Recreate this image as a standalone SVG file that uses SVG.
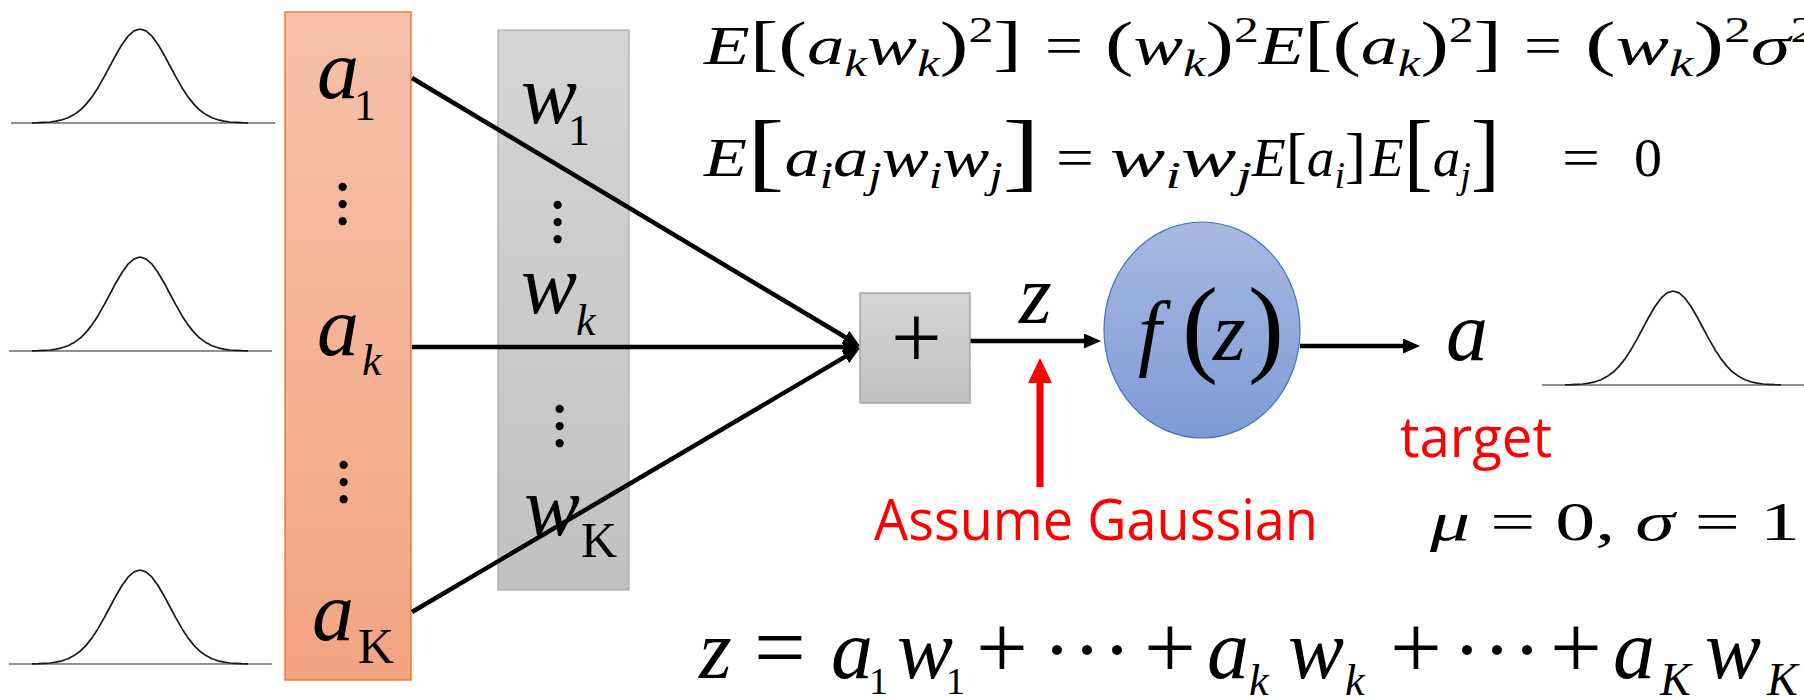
<svg xmlns="http://www.w3.org/2000/svg" xmlns:xlink="http://www.w3.org/1999/xlink" width="1804" height="700" viewBox="0 0 1804 700">
<style>
.ser{font-family:"Liberation Serif","Times New Roman",serif;fill:#000}
.it{font-style:italic}
.up{font-style:normal}
.big{font-size:84px}
.sub{font-size:44px}
.op{font-size:92px;font-style:normal}
.cm{font-family:"Liberation Serif","Times New Roman",serif;font-size:54px;fill:#000}
.br{font-size:62px;font-style:normal}
.bb{font-size:86px;font-style:normal}
.s{font-size:37px;font-style:italic}
.p{font-size:36px;font-style:normal}
.red{font-family:"Open Sans","Liberation Sans",sans-serif;font-size:56px;fill:#FF0000}
.vd{font-family:"Liberation Serif","Times New Roman",serif;font-weight:bold;font-size:51px;text-anchor:middle;fill:#000}
.base{stroke:#8f8f8f;stroke-width:2.2;fill:none}
.curve{stroke:#1a1a1a;stroke-width:1.7;fill:none;stroke-linejoin:round}
.conn{stroke:#000;stroke-width:4.5;fill:none;marker-end:url(#ah)}
</style>
<defs>
<linearGradient id="gOr" x1="0" y1="0" x2="0" y2="1"><stop offset="0" stop-color="#F7C1A9"/><stop offset="1" stop-color="#F4A482"/></linearGradient>
<linearGradient id="gGr" x1="0" y1="0" x2="0" y2="1"><stop offset="0" stop-color="#D5D5D5"/><stop offset="1" stop-color="#C1C1C1"/></linearGradient>
<linearGradient id="gBl" x1="0" y1="0" x2="0" y2="1"><stop offset="0" stop-color="#A9B9E1"/><stop offset="1" stop-color="#7E9AD5"/></linearGradient>
<marker id="ah" markerUnits="userSpaceOnUse" markerWidth="17" markerHeight="15" viewBox="0 0 17 15" refX="0.5" refY="7.5" orient="auto"><path d="M0,0 L17,7.5 L0,15 Z" fill="#000"/></marker>
<marker id="ahr" markerUnits="userSpaceOnUse" markerWidth="25" markerHeight="24" viewBox="0 0 25 24" refX="0.5" refY="12" orient="auto"><path d="M0,0 L25,12 L0,24 Z" fill="#FF0000"/></marker>
<path id="gc" d="M-108,-0.15 L-102,-0.3 L-96,-0.6 L-90,-1 L-84,-1.9 L-78,-3.2 L-72,-5.3 L-66,-8.4 L-60,-12.7 L-54,-18.6 L-48,-26.1 L-42,-35.3 L-36,-45.8 L-30,-57 L-24,-68.3 L-18,-78.5 L-12,-86.8 L-6,-92.1 L0,-94 L6,-92.1 L12,-86.8 L18,-78.5 L24,-68.3 L30,-57 L36,-45.8 L42,-35.3 L48,-26.1 L54,-18.6 L60,-12.7 L66,-8.4 L72,-5.3 L78,-3.2 L84,-1.9 L90,-1 L96,-0.6 L102,-0.3 L108,-0.15"/>
</defs>
<rect width="1804" height="700" fill="#fff"/>

<g id="gauss1" transform="translate(140,123)"><line class="base" x1="-129" y1="0" x2="135" y2="0"/><use xlink:href="#gc" class="curve"/></g>
<g id="gauss2" transform="translate(140,351)"><line class="base" x1="-131" y1="0" x2="132" y2="0"/><use xlink:href="#gc" class="curve"/></g>
<g id="gauss3" transform="translate(140,664)"><line class="base" x1="-131" y1="0" x2="132" y2="0"/><use xlink:href="#gc" class="curve"/></g>
<g id="gauss-out" transform="translate(1673,385)"><line class="base" x1="-131" y1="0" x2="135" y2="0"/><use xlink:href="#gc" class="curve"/></g>

<g id="inputs">
<rect x="285" y="12" width="126" height="668" fill="url(#gOr)" stroke="#ED7D31" stroke-width="1.5"/>
<text class="ser"><tspan class="it big" x="317" y="98">a</tspan><tspan class="up sub" x="354" y="120">1</tspan></text>
<text class="vd" transform="translate(343,204) rotate(90)" x="0" y="3.6">…</text>
<text class="ser"><tspan class="it big" x="317" y="355">a</tspan><tspan class="it sub" x="362" y="375">k</tspan></text>
<text class="vd" transform="translate(344,482) rotate(90)" x="0" y="3.6">…</text>
<text class="ser"><tspan class="it big" x="312" y="640">a</tspan><tspan class="up" font-size="50" x="358" y="663">K</tspan></text>
</g>

<g id="weights">
<rect x="498" y="30" width="131" height="560" fill="url(#gGr)" stroke="#A9A9A9" stroke-width="1.2"/>
<text class="ser"><tspan class="it big" x="521" y="123">w</tspan><tspan class="up sub" x="568" y="145">1</tspan></text>
<text class="vd" transform="translate(558,222) rotate(90)" x="0" y="3.6">…</text>
<text class="ser"><tspan class="it big" x="521" y="313">w</tspan><tspan class="it sub" x="576" y="335">k</tspan></text>
<text class="vd" transform="translate(560,426) rotate(90)" x="0" y="3.6">…</text>
<text class="ser"><tspan class="it big" x="524" y="535">w</tspan><tspan class="up" font-size="50" x="581" y="557">K</tspan></text>
</g>

<g id="connectors">
<line class="conn" x1="412" y1="78" x2="845.84" y2="337.53"/>
<line class="conn" x1="412" y1="347" x2="843.5" y2="347"/>
<line class="conn" x1="412" y1="612" x2="845.79" y2="356.38"/>
<line class="conn" stroke-width="4" x1="970" y1="341" x2="1084.5" y2="341"/>
<line class="conn" stroke-width="4" x1="1300" y1="346" x2="1403.5" y2="346"/>
<line x1="1040" y1="487" x2="1040" y2="382.5" stroke="#FF0000" stroke-width="7" marker-end="url(#ahr)"/>
</g>

<g id="sum">
<rect x="860" y="293" width="110" height="110" fill="url(#gGr)" stroke="#A6A6A6" stroke-width="1.5"/>
<text class="ser" x="891" y="368" font-size="90">+</text>
</g>
<text id="z-label" class="ser it" x="1019" y="323" font-size="84">z</text>

<g id="activation">
<ellipse cx="1202" cy="330" rx="98" ry="108" fill="url(#gBl)" stroke="#4472C4" stroke-width="1.2"/>
<text class="ser"><tspan class="it" font-size="84" x="1138" y="360">f</tspan><tspan class="up" font-size="108" x="1182" y="362">(</tspan><tspan class="it" font-size="84" x="1213" y="360">z</tspan><tspan class="up" font-size="108" x="1248" y="362">)</tspan></text>
</g>
<text id="output" class="ser it" x="1446" y="360" font-size="84">a</text>

<text id="assume" class="red" x="874" y="540" textLength="444" lengthAdjust="spacingAndGlyphs">Assume Gaussian</text>
<text id="target" class="red" x="1400" y="457" textLength="152" lengthAdjust="spacingAndGlyphs">target</text>
<text id="musigma" class="cm" x="1430" y="540" textLength="370" lengthAdjust="spacingAndGlyphs"><tspan class="it">μ</tspan> = 0, <tspan class="it">σ</tspan> = 1</text>

<g id="eq1">
<text class="cm" x="704" y="64" textLength="318" lengthAdjust="spacingAndGlyphs"><tspan class="it">E</tspan><tspan class="br">[(</tspan><tspan class="it">a</tspan><tspan class="s" dy="12">k</tspan><tspan class="it" dy="-12">w</tspan><tspan class="s" dy="12">k</tspan><tspan class="br" dy="-12">)</tspan><tspan class="p" dy="-22">2</tspan><tspan class="br" dy="22">]</tspan></text>
<text class="cm" x="1045" y="64" textLength="38" lengthAdjust="spacingAndGlyphs">=</text>
<text class="cm" x="1105" y="64" textLength="397" lengthAdjust="spacingAndGlyphs"><tspan class="br">(</tspan><tspan class="it">w</tspan><tspan class="s" dy="12">k</tspan><tspan class="br" dy="-12">)</tspan><tspan class="p" dy="-22">2</tspan><tspan class="it" dy="22">E</tspan><tspan class="br">[(</tspan><tspan class="it">a</tspan><tspan class="s" dy="12">k</tspan><tspan class="br" dy="-12">)</tspan><tspan class="p" dy="-22">2</tspan><tspan class="br" dy="22">]</tspan></text>
<text class="cm" x="1524" y="64" textLength="38" lengthAdjust="spacingAndGlyphs">=</text>
<text class="cm" x="1585" y="64" textLength="232" lengthAdjust="spacingAndGlyphs"><tspan class="br">(</tspan><tspan class="it">w</tspan><tspan class="s" dy="12">k</tspan><tspan class="br" dy="-12">)</tspan><tspan class="p" dy="-22">2</tspan><tspan class="it" dy="22">σ</tspan><tspan class="p" dy="-22">2</tspan></text>
</g>

<g id="eq2">
<text class="cm" x="704" y="176" textLength="336" lengthAdjust="spacingAndGlyphs"><tspan class="it">E</tspan><tspan class="bb" dy="4">[</tspan><tspan class="it" dy="-4">a</tspan><tspan class="s" dy="12">i</tspan><tspan class="it" dy="-12">a</tspan><tspan class="s" dy="12">j</tspan><tspan class="it" dy="-12">w</tspan><tspan class="s" dy="12">i</tspan><tspan class="it" dy="-12">w</tspan><tspan class="s" dy="12">j</tspan><tspan class="bb" dy="-8">]</tspan></text>
<text class="cm" x="1056" y="176" textLength="38" lengthAdjust="spacingAndGlyphs">=</text>
<text class="cm" x="1110" y="176" textLength="142" lengthAdjust="spacingAndGlyphs"><tspan class="it">w</tspan><tspan class="s" dy="12">i</tspan><tspan class="it" dy="-12">w</tspan><tspan class="s" dy="12">j</tspan></text>
<text class="cm" x="1252" y="176" textLength="114" lengthAdjust="spacingAndGlyphs"><tspan class="it">E</tspan><tspan class="br">[</tspan><tspan class="it">a</tspan><tspan class="s" dy="12">i</tspan><tspan class="br" dy="-12">]</tspan></text>
<text class="cm" x="1370" y="176" textLength="130" lengthAdjust="spacingAndGlyphs"><tspan class="it">E</tspan><tspan class="bb" dy="4">[</tspan><tspan class="it" dy="-4">a</tspan><tspan class="s" dy="12">j</tspan><tspan class="bb" dy="-8">]</tspan></text>
<text class="cm" x="1562" y="176" textLength="38" lengthAdjust="spacingAndGlyphs">=</text>
<text class="cm" x="1634" y="176" textLength="28" lengthAdjust="spacingAndGlyphs">0</text>
</g>

<text id="eq3" class="ser it" font-size="84"><tspan x="699" y="678">z</tspan><tspan class="op" x="754" y="678">=</tspan><tspan x="831" y="678">a</tspan><tspan class="up" font-size="38" x="869" y="694">1</tspan><tspan x="897" y="678">w</tspan><tspan class="up" font-size="38" x="946" y="694">1</tspan><tspan class="op" x="976" y="678">+</tspan><tspan class="up" x="1043 1073 1103" y="678">···</tspan><tspan class="op" x="1144" y="678">+</tspan><tspan x="1207" y="678">a</tspan><tspan font-size="44" x="1249" y="695">k</tspan><tspan x="1288" y="678">w</tspan><tspan font-size="44" x="1345" y="695">k</tspan><tspan class="op" x="1390" y="678">+</tspan><tspan class="up" x="1453 1483 1513" y="678">···</tspan><tspan class="op" x="1550" y="678">+</tspan><tspan x="1613" y="678">a</tspan><tspan font-size="46" x="1660" y="695">K</tspan><tspan x="1705" y="678">w</tspan><tspan font-size="46" x="1767" y="695">K</tspan></text>
</svg>
